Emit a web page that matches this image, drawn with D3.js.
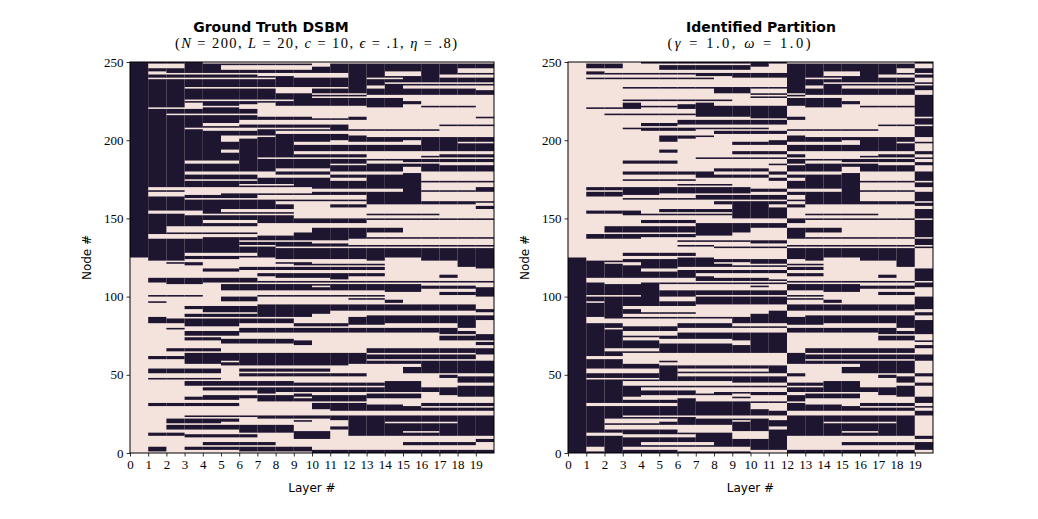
<!DOCTYPE html>
<html>
<head>
<meta charset="utf-8">
<script src="https://d3js.org/d3.v7.min.js"></script>
<style>
  body { margin: 0; background: #ffffff; }
  .tick-label { font-family: "Liberation Serif", serif; font-size: 13px; fill: #000; }
  .axis-title { font-family: "DejaVu Sans", sans-serif; font-size: 12px; fill: #000; }
  .plot-title { font-family: "DejaVu Sans", sans-serif; font-size: 14px; font-weight: bold; fill: #000; }
  .plot-sub { font-family: "Liberation Serif", serif; font-size: 14.5px; fill: #000; }
</style>
</head>
<body>
<div id="chart"></div>
<script>
// dimensions of the multilayer network
var nodeCount = 250;
var layerCount = 20;

// x tick labels (layers) and y tick labels (nodes)
var layerTicks = d3.range(0, 20);
var nodeTicks = [0, 50, 100, 150, 200, 250];

// community of every node at layer 0: [top node, bottom node, community]
// community 1 = dark, community 0 = light
var startBlocks = [
  [249, 125, 1],
  [124, 0, 0]
];

// ground truth: horizontal runs where nodes sit in a given community
// [top node, bottom node, first layer, last layer, community]
var truthSegments = [
  // upper block, light runs
  [249,249,4,19,0], [248,246,1,2,0], [247,245,5,9,0], [248,247,10,10,0],
  [245,243,18,19,0], [243,242,1,1,0], [242,242,2,6,0], [242,241,7,8,0],
  [242,240,9,11,0], [243,241,14,15,0], [241,240,17,19,0], [239,239,1,7,0],
  [239,239,13,14,0], [236,236,14,19,0], [233,233,3,11,0], [234,233,13,13,0],
  [234,233,15,18,0], [234,232,19,19,0], [232,230,8,9,0], [229,229,10,12,0],
  [227,227,10,12,0], [228,227,13,14,0], [228,225,15,19,0], [225,225,3,8,0],
  [225,223,16,19,0], [220,220,1,2,0], [223,220,3,3,0], [221,221,4,5,0],
  [222,220,6,6,0], [223,216,7,7,0], [221,216,8,12,0], [220,217,13,14,0],
  [222,218,15,19,0], [221,221,16,18,1], [216,216,2,6,0], [218,215,7,19,0],
  [214,214,10,11,0], [215,211,13,19,0], [214,214,19,19,1], [212,210,6,11,0],
  [212,208,12,19,0], [210,209,4,5,0], [209,209,17,19,1], [207,207,3,10,0],
  [206,206,4,6,0], [208,203,12,19,0], [206,206,12,16,1], [205,204,8,11,0],
  [203,202,13,19,0], [202,202,5,7,0], [201,199,5,5,0], [201,201,6,6,0],
  [199,199,11,11,0], [198,197,9,15,0], [199,199,15,15,0], [198,198,18,19,0],
  [193,192,5,5,0], [192,191,9,19,0], [191,190,16,16,0], [190,189,13,15,0],
  [188,188,7,19,0],
  [186,185,3,5,0], [186,185,13,14,0], [185,185,15,19,0], [184,184,11,12,0],
  [184,184,17,19,0], [181,180,8,10,0], [182,179,15,15,0], [179,178,3,7,0],
  [179,178,11,14,0], [179,174,16,19,0], [177,176,7,10,0], [175,174,11,12,0],
  [174,174,3,6,0], [171,171,6,8,0], [172,168,16,18,0], [172,170,19,19,0],
  [169,168,1,2,0], [169,166,3,9,0], [168,167,10,14,0], [166,165,1,4,0],
  [164,164,1,2,0], [164,163,7,12,0], [166,161,16,19,0], [162,162,3,12,0],
  [160,155,9,12,0], [158,157,11,12,1], [160,159,8,8,0], [158,156,13,18,0],
  [159,158,19,19,0], [155,154,5,8,0], [154,153,1,3,0], [155,150,9,19,0],
  [152,152,13,16,1], [152,152,3,8,0], [148,147,4,6,0], [148,144,13,19,0],
  [146,145,7,14,0], [144,144,2,14,0], [143,143,2,9,0], [142,141,2,9,0],
  [143,141,15,19,0], [139,137,1,3,0], [139,138,4,6,0], [140,139,7,8,0],
  [140,138,13,19,0], [135,135,6,7,0], [135,135,7,11,0], [134,134,10,11,0],
  [136,133,12,19,0], [132,132,6,7,0], [131,131,8,19,0], [127,126,3,6,0],
  // lower block, dark runs
  [124,124,1,5,1], [124,123,1,2,1], [124,124,8,12,1], [124,123,13,13,1],
  [124,123,16,19,1], [123,122,18,19,1], [121,121,2,3,1], [120,120,3,3,1],
  [121,121,8,8,1], [121,120,9,9,1], [120,120,10,13,1], [121,119,18,19,1],
  [118,117,6,13,1], [117,116,4,5,1], [118,118,19,19,1], [114,113,7,13,1],
  [114,112,8,10,1], [112,111,11,11,1], [113,112,17,17,1], [111,109,1,6,1],
  [109,108,2,3,1], [109,109,7,19,1], [107,104,5,13,1], [106,106,10,10,0],
  [107,103,14,15,1], [106,105,16,18,1], [105,100,19,19,1], [100,100,1,3,1],
  [96,96,1,1,1], [99,97,5,6,1], [100,100,7,13,1], [98,98,12,13,1],
  [97,96,14,14,1], [102,101,17,18,1], [93,92,3,6,1], [94,89,7,10,1],
  [94,91,11,17,1], [94,91,18,18,1], [91,90,19,19,1], [91,90,4,6,1],
  [88,87,3,9,1], [87,85,13,19,1], [86,86,1,1,1], [85,83,1,2,1],
  [85,81,3,5,1], [85,83,6,8,1], [82,81,9,11,1], [86,82,12,13,1],
  [85,83,14,18,1], [82,80,18,18,1], [79,79,2,2,1], [79,77,6,17,1],
  [77,75,3,5,1], [77,76,17,18,1], [75,74,19,19,1], [73,72,3,4,1],
  [72,70,5,8,1], [71,69,9,9,1], [74,72,17,19,1], [70,69,19,19,1],
  [66,65,2,4,1], [66,64,13,19,1], [63,62,3,5,1], [63,60,6,12,1],
  [61,61,1,2,1], [64,63,19,19,1],
  [62,59,3,5,1], [62,58,6,12,1], [62,60,13,18,1], [60,60,1,2,1],
  [58,57,3,4,1], [57,56,5,11,1], [58,57,12,19,1], [56,54,16,19,1],
  [55,52,17,19,1], [53,52,1,4,1], [51,51,1,4,1], [53,52,6,10,1],
  [50,49,11,12,1], [50,49,6,10,1], [54,51,15,19,1], [47,47,1,4,1],
  [45,43,3,8,1], [44,43,9,13,1], [45,42,14,15,1], [48,45,18,19,1],
  [49,48,17,17,1], [42,41,18,19,1], [41,40,4,7,1], [41,39,8,19,1],
  [39,38,7,7,1], [39,36,18,19,1], [36,35,4,8,1], [37,36,9,9,1],
  [36,35,10,12,1], [37,35,13,15,1], [38,37,17,17,1], [35,34,3,5,1],
  [34,33,7,10,1], [35,33,11,12,1], [31,30,1,5,1], [31,28,10,10,1],
  [31,27,11,12,1], [30,28,13,14,1], [31,30,16,19,1], [29,28,15,15,1],
  [28,27,11,19,1], [23,23,3,6,1], [23,22,7,10,1], [23,21,11,13,1],
  [23,22,14,19,1], [21,19,2,4,1], [21,20,5,5,1], [20,20,9,9,1],
  [21,16,12,19,1], [19,19,14,17,0], [17,15,2,6,1], [17,15,7,8,1],
  [16,15,11,11,1], [14,13,6,8,1], [13,11,9,10,1], [15,11,12,19,1],
  [13,13,15,16,0], [12,11,1,2,1], [11,10,3,6,1], [10,9,9,10,1],
  [6,5,4,7,1], [6,5,15,18,1], [8,7,19,19,1], [3,1,1,1,1],
  [3,2,3,5,1], [3,1,6,9,1], [1,0,10,10,1], [1,0,11,19,1]
];

// identified partition = ground truth with community labels swapped on these layers
var partitionLabelSwap = [1,1,1,1,1,1,1,1,1,1,1,1,0,0,0,0,0,0,0,1];

// titles: bold line, then math line as [text, italic?] pieces
var titles = [
  { bold: "Ground Truth DSBM",
    sub: [["(", 0], ["N", 1], [" = 200, ", 0], ["L", 1], [" = 20, ", 0], ["c", 1], [" = 10, ", 0],
          ["\u03f5", 1], [" = .1, ", 0], ["\u03b7", 1], [" = .8)", 0]] },
  { bold: "Identified Partition",
    sub: [["(", 0], ["\u03b3", 1], [" = 1.0, ", 0], ["\u03c9", 1], [" = 1.0)", 0]] }
];

var darkColor = "#1e1530";
var lightColor = "#f4e2dc";

// build the ground-truth grid: grid[node][layer]
var truth = d3.range(nodeCount).map(function() { return new Array(layerCount).fill(0); });
startBlocks.forEach(function(b) {
  for (var n = b[1]; n <= b[0]; n++)
    for (var k = 0; k < layerCount; k++) truth[n][k] = b[2];
});
truthSegments.forEach(function(s) {
  for (var n = s[1]; n <= s[0]; n++)
    for (var k = s[2]; k <= s[3]; k++) truth[n][k] = s[4];
});

var partition = truth.map(function(row) {
  return row.map(function(v, k) { return partitionLabelSwap[k] ? 1 - v : v; });
});

// SVG setup
var svgWidth = 1038;
var svgHeight = 519;

var svg = d3.select("#chart")
  .append("svg")
  .attr("width", svgWidth)
  .attr("height", svgHeight);

var panels = [
  { left: 130, right: 494, title: titles[0], grid: truth, boldX: 271, subX: 316, subW: 282 },
  { left: 568, right: 933, title: titles[1], grid: partition, boldX: 761, subX: 739, subW: 143 }
];
var plotTop = 62;
var plotBottom = 453;

// turn one layer column into vertical runs of equal community
function layerRuns(grid, k) {
  var runs = [];
  var start = 0;
  for (var n = 1; n <= nodeCount; n++) {
    if (n === nodeCount || grid[n][k] !== grid[start][k]) {
      runs.push({ layer: k, from: start, to: n, value: grid[start][k] });
      start = n;
    }
  }
  return runs;
}

panels.forEach(function(p) {
  var xScale = d3.scaleLinear().domain([0, layerCount]).range([p.left, p.right]);
  var yScale = d3.scaleLinear().domain([0, nodeCount]).range([plotBottom, plotTop]);

  var g = svg.append("g");

  // background = light community
  g.append("rect")
    .attr("x", xScale(0))
    .attr("y", yScale(nodeCount))
    .attr("width", xScale(layerCount) - xScale(0))
    .attr("height", yScale(0) - yScale(nodeCount))
    .attr("fill", lightColor);

  var runs = [];
  for (var k = 0; k < layerCount; k++) runs = runs.concat(layerRuns(p.grid, k));

  g.selectAll("rect.cell")
    .data(runs.filter(function(r) { return r.value === 1; }))
    .enter()
    .append("rect")
    .attr("class", "cell")
    .attr("x", function(d) { return xScale(d.layer); })
    .attr("y", function(d) { return yScale(d.to); })
    .attr("width", function(d) { return xScale(d.layer + 1) - xScale(d.layer); })
    .attr("height", function(d) { return yScale(d.from) - yScale(d.to); })
    .attr("fill", darkColor);

  // axes
  var bottomAxis = d3.axisBottom(xScale).tickValues(layerTicks).tickSize(3.5).tickPadding(3);
  var leftAxis = d3.axisLeft(yScale).tickValues(nodeTicks).tickSize(3.5).tickPadding(3);

  var xAxis = g.append("g")
    .attr("transform", "translate(0," + plotBottom + ")")
    .call(bottomAxis);
  var yAxis = g.append("g")
    .attr("transform", "translate(" + p.left + ",0)")
    .call(leftAxis);

  [xAxis, yAxis].forEach(function(a) {
    a.select(".domain").remove();
    a.selectAll("line").attr("stroke", "#000").attr("stroke-width", 0.8);
    a.selectAll("text").attr("class", "tick-label").attr("font-size", null).attr("font-family", null);
  });

  // frame
  g.append("rect")
    .attr("x", p.left)
    .attr("y", plotTop)
    .attr("width", p.right - p.left)
    .attr("height", plotBottom - plotTop)
    .attr("fill", "none")
    .attr("stroke", "#000")
    .attr("stroke-width", 1);

  // axis titles
  g.append("text")
    .attr("class", "axis-title")
    .attr("x", (p.left + p.right) / 2)
    .attr("y", 492)
    .attr("text-anchor", "middle")
    .text("Layer #");

  g.append("text")
    .attr("class", "axis-title")
    .attr("transform", "translate(" + (p.left - 39) + "," + ((plotTop + plotBottom) / 2) + ") rotate(-90)")
    .attr("text-anchor", "middle")
    .text("Node #");

  // two-line title
  g.append("text")
    .attr("class", "plot-title")
    .attr("x", p.boldX)
    .attr("y", 31.5)
    .attr("text-anchor", "middle")
    .text(p.title.bold);

  var sub = g.append("text")
    .attr("class", "plot-sub")
    .attr("x", p.subX)
    .attr("y", 48)
    .attr("text-anchor", "middle")
    .attr("textLength", p.subW)
    .attr("lengthAdjust", "spacing");
  p.title.sub.forEach(function(part) {
    sub.append("tspan")
      .attr("font-style", part[1] ? "italic" : "normal")
      .text(part[0]);
  });
});
</script>
</body>
</html>
